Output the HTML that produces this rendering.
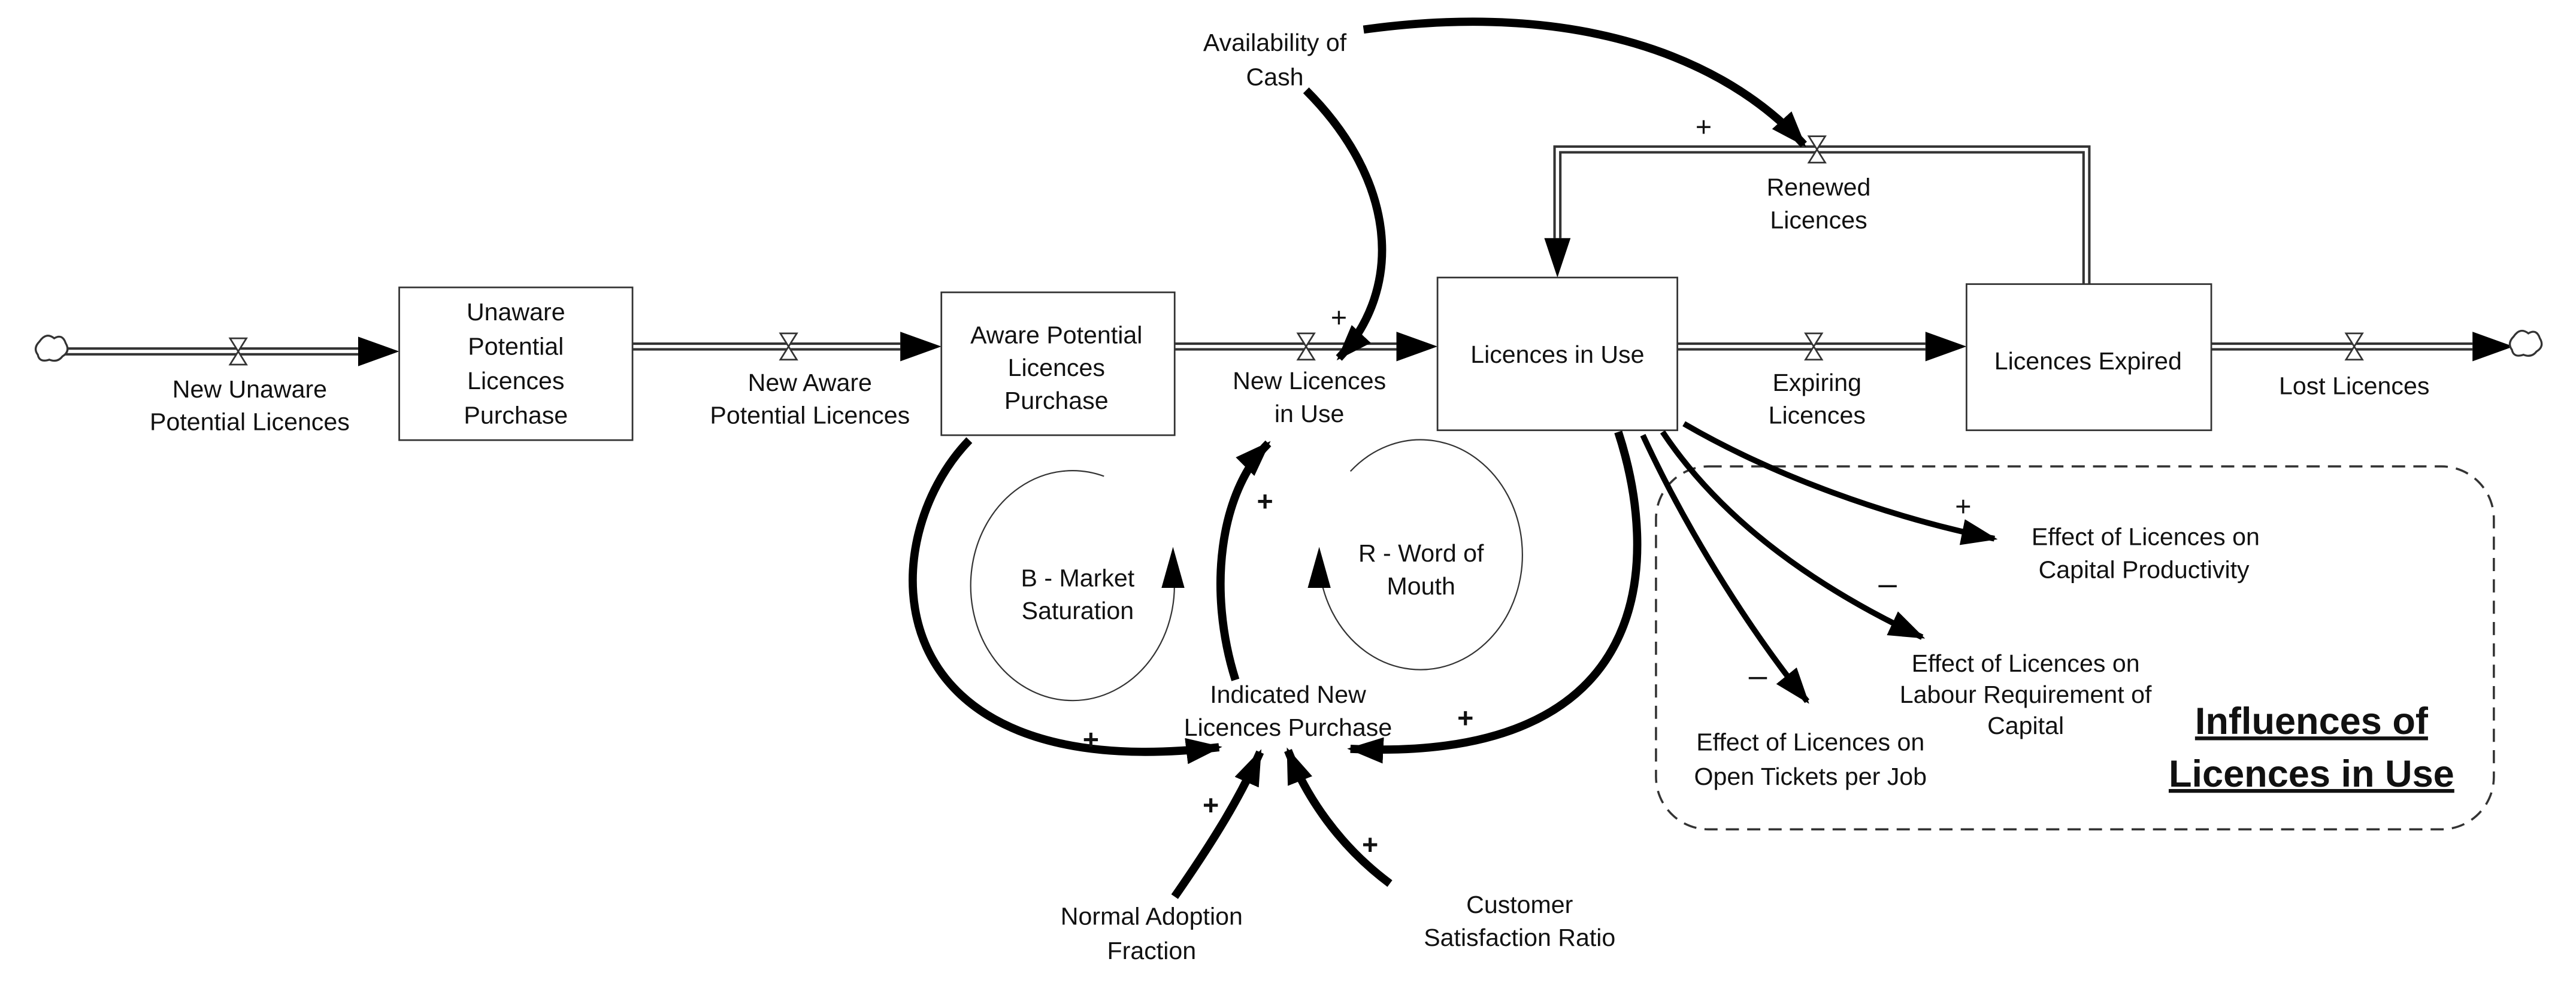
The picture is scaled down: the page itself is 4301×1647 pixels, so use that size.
<!DOCTYPE html>
<html><head><meta charset="utf-8"><style>
html,body{margin:0;padding:0;background:#fff;}
svg{display:block;}
text{font-family:"Liberation Sans",Arial,sans-serif;font-size:15px;fill:#111;text-anchor:middle;}
</style></head><body>
<svg width="4301" height="1647" viewBox="0 0 1568 600.4" preserveAspectRatio="none" xmlns="http://www.w3.org/2000/svg">
<defs>
<marker id="a" markerUnits="userSpaceOnUse" markerWidth="22" markerHeight="16" refX="20" refY="8" orient="auto"><path d="M0,0 L22,8 L0,16 Z" fill="#000"/></marker>
</defs>
<rect width="1568" height="600.4" fill="#fff"/>

<g fill="none" stroke-linejoin="miter">
<g stroke="#333" stroke-width="5">
<path d="M36,214 H218"/><path d="M385,211 H548"/><path d="M715,211 H850"/><path d="M1021,211 H1172"/><path d="M1346,211 H1505"/>
<path d="M1270,173 V91 H948 V145"/>
</g>
<g stroke="#fff" stroke-width="2">
<path d="M36,214 H242"/><path d="M385,211 H570"/><path d="M715,211 H872"/><path d="M1021,211 H1195"/><path d="M1346,211 H1525"/>
<path d="M1270,175 V91 H948 V145"/>
</g>
</g>
<g fill="#000">
<path d="M218,205 L243,214 L218,223 Z"/><path d="M548,202 L573,211 L548,220 Z"/><path d="M850,202 L875,211 L850,220 Z"/>
<path d="M1172,202 L1197,211 L1172,220 Z"/><path d="M1505,202 L1530,211 L1505,220 Z"/><path d="M940,145 L948,169 L956,145 Z"/>
</g>
<path d="M24,208 q4,-6 9,-2 q5,-3 7,3 q3,5 -2,8 q-3,4 -8,2 q-6,2 -7,-3 q-3,-4 1,-8z" fill="#fff" stroke="#333" stroke-width="1.2"/>
<path d="M1530,205 q4,-6 9,-2 q5,-3 7,3 q3,5 -2,8 q-3,4 -8,2 q-6,2 -7,-3 q-3,-4 1,-8z" fill="#fff" stroke="#333" stroke-width="1.2"/>
<g fill="#fff" stroke="#333" stroke-width="1">
<path d="M140,206 L150,206 L140,222 L150,222 Z"/>
<path d="M475,203 L485,203 L475,219 L485,219 Z"/>
<path d="M790,203 L800,203 L790,219 L800,219 Z"/>
<path d="M1099,203 L1109,203 L1099,219 L1109,219 Z"/>
<path d="M1428,203 L1438,203 L1428,219 L1438,219 Z"/>
<path d="M1101,83 L1111,83 L1101,99 L1111,99 Z"/>
</g>
<g fill="#fff" stroke="#333" stroke-width="1">
<rect x="243" y="175" width="142" height="93"/>
<rect x="573" y="178" width="142" height="87"/>
<rect x="875" y="169" width="146" height="93"/>
<rect x="1197" y="173" width="149" height="89"/>
</g>
<rect x="1008" y="284" width="510" height="221" rx="32" fill="none" stroke="#333" stroke-width="1.3" stroke-dasharray="8,5"/>

<g fill="none" stroke="#333" stroke-width="0.8">
<path d="M672,290 A62,70 0 1 0 714,345"/>
<path d="M822,287 A62,70 0 1 1 803,345"/>
</g>
<path d="M707,358 L714,333 L721,358 Z" fill="#000"/>
<path d="M796,358 L803,333 L810,358 Z" fill="#000"/>

<g fill="none" stroke="#000" stroke-width="5" stroke-linecap="butt">
<path d="M830,18 C960,0 1050,35 1098,88" marker-end="url(#a)"/>
<path d="M795,55 C850,110 855,175 815,218" marker-end="url(#a)"/>
<path d="M590,268 C530,330 530,480 742,455" marker-end="url(#a)"/>
<path d="M752,414 C735,360 742,300 772,270" marker-end="url(#a)"/>
<path d="M985,263 C1010,340 1010,465 822,456" marker-end="url(#a)"/>
<path d="M715,546 C740,510 755,485 767,458" marker-end="url(#a)"/>
<path d="M846,538 C815,515 795,485 784,457" marker-end="url(#a)"/>
</g>
<g fill="none" stroke="#000" stroke-width="3.5">
<path d="M1025,258 C1080,290 1150,315 1214,328" marker-end="url(#a)"/>
<path d="M1012,263 C1050,320 1110,360 1170,388" marker-end="url(#a)"/>
<path d="M1000,265 C1030,330 1070,390 1100,427" marker-end="url(#a)"/>
</g>

<text x="1037" y="83" style="font-size:17px">+</text>
<text x="815" y="199" style="font-size:17px">+</text>
<text x="664" y="456" style="font-size:17px;font-weight:bold">+</text>
<text x="770" y="311" style="font-size:17px;font-weight:bold">+</text>
<text x="892" y="443" style="font-size:17px;font-weight:bold">+</text>
<text x="737" y="496" style="font-size:17px;font-weight:bold">+</text>
<text x="834" y="520" style="font-size:17px;font-weight:bold">+</text>
<text x="1195" y="314" style="font-size:17px">+</text>
<text x="1149" y="362" style="font-size:20px">–</text>
<text x="1070" y="418" style="font-size:20px">–</text>

<text x="152" y="242">New Unaware</text><text x="152" y="262">Potential Licences</text>
<text x="314" y="195">Unaware</text><text x="314" y="216">Potential</text><text x="314" y="237">Licences</text><text x="314" y="258">Purchase</text>
<text x="493" y="238">New Aware</text><text x="493" y="258">Potential Licences</text>
<text x="643" y="209">Aware Potential</text><text x="643" y="229">Licences</text><text x="643" y="249">Purchase</text>
<text x="797" y="237">New Licences</text><text x="797" y="257">in Use</text>
<text x="948" y="221">Licences in Use</text>
<text x="1106" y="238">Expiring</text><text x="1106" y="258">Licences</text>
<text x="1271" y="225">Licences Expired</text>
<text x="1433" y="240">Lost Licences</text>
<text x="1107" y="119">Renewed</text><text x="1107" y="139">Licences</text>
<text x="776" y="31">Availability of</text><text x="776" y="52">Cash</text>
<text x="656" y="357">B - Market</text><text x="656" y="377">Saturation</text>
<text x="865" y="342">R - Word of</text><text x="865" y="362">Mouth</text>
<text x="784" y="428">Indicated New</text><text x="784" y="448">Licences Purchase</text>
<text x="701" y="563">Normal Adoption</text><text x="701" y="584">Fraction</text>
<text x="925" y="556">Customer</text><text x="925" y="576">Satisfaction Ratio</text>
<text x="1306" y="332">Effect of Licences on</text><text x="1305" y="352">Capital Productivity</text>
<text x="1233" y="409">Effect of Licences on</text><text x="1233" y="428">Labour Requirement of</text><text x="1233" y="447">Capital</text>
<text x="1102" y="457">Effect of Licences on</text><text x="1102" y="478">Open Tickets per Job</text>
<text x="1407" y="447" style="font-size:23px;font-weight:bold;text-decoration:underline">Influences of</text>
<text x="1407" y="479" style="font-size:23px;font-weight:bold;text-decoration:underline">Licences in Use</text>
</svg>
</body></html>
